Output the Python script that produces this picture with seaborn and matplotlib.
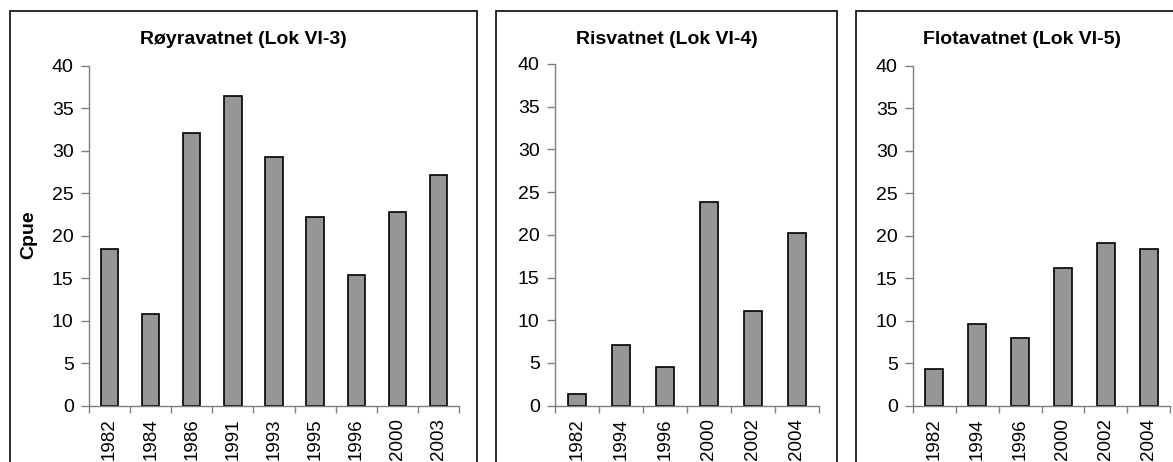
import numpy as np
import matplotlib
matplotlib.use("Agg")
import matplotlib.pyplot as plt
from matplotlib.patches import Rectangle
import seaborn as sns

# Catch per unit effort by survey year for three lakes
royr_years = ["1982", "1984", "1986", "1991", "1993", "1995", "1996", "2000", "2003"]
royr_cpue = [18.4, 10.8, 32.1, 36.4, 29.3, 22.2, 15.4, 22.8, 27.2]

risv_years = ["1982", "1994", "1996", "2000", "2002", "2004"]
risv_cpue = [1.4, 7.1, 4.5, 23.8, 11.1, 20.2]

flot_years = ["1982", "1994", "1996", "2000", "2002", "2004"]
flot_cpue = [4.3, 9.6, 8.0, 16.2, 19.1, 18.5]

titles = ["Røyravatnet (Lok VI-3)", "Risvatnet (Lok VI-4)", "Flotavatnet (Lok VI-5)"]
y_ticks = [0, 5, 10, 15, 20, 25, 30, 35, 40]

sns.set_theme(style="white")
plt.rcParams["font.family"] = ["Liberation Sans", "DejaVu Sans"]
plt.rcParams["text.color"] = "black"
plt.rcParams["xtick.labelcolor"] = "black"
plt.rcParams["ytick.labelcolor"] = "black"

W, H = 1173, 462
fig = plt.figure(figsize=(W / 100, H / 100), dpi=100)
fig.patch.set_facecolor("white")


def fx(px):
    return px / W


def fy(py):
    return 1 - py / H


# panel frames (left, right, top) in pixels
frames = [(10, 477, 11), (496, 837, 11), (856, 1187, 11)]
for l, r, t in frames:
    fig.patches.append(Rectangle((fx(l), -0.2), fx(r) - fx(l), fy(t) + 0.2,
                                 transform=fig.transFigure, fill=False,
                                 edgecolor="#1a1a1a", linewidth=1.3, zorder=0))

# axes boxes: (left, right, top-of-40, zero line) in pixels
boxes = [(89, 459, 65.7, 405.7), (555, 819, 64.0, 405.7), (913, 1170, 66.0, 405.7)]
data = [(royr_years, royr_cpue), (risv_years, risv_cpue), (flot_years, flot_cpue)]

axis_gray = "#7f7f7f"
for i, ((l, r, t, b), (yrs, vals), (fl, fr, ft)) in enumerate(zip(boxes, data, frames)):
    ax = fig.add_axes([fx(l), fy(b), fx(r) - fx(l), fy(t) - fy(b)])
    ax.set_facecolor("none")
    sns.barplot(x=yrs, y=vals, ax=ax, color="#969696", saturation=1,
                edgecolor="black", linewidth=1.2, width=0.42)
    n = len(yrs)
    ax.set_xlim(-0.5, n - 0.5)
    ax.set_ylim(0, 40)
    ax.set_yticks(y_ticks)
    ax.set_yticklabels([str(v) for v in y_ticks], fontsize=14)
    ax.set_xticks(np.arange(n))
    ax.set_xticklabels(yrs, rotation=90, fontsize=13.5)
    ax.set_xticks(np.arange(n + 1) - 0.5, minor=True)
    ax.tick_params(axis="x", which="major", length=0, pad=9)
    ax.tick_params(axis="x", which="minor", length=5, width=1, color=axis_gray,
                   direction="out", bottom=True)
    ax.tick_params(axis="y", which="major", length=6, width=1, color=axis_gray,
                   direction="out", left=True, pad=5)
    for side in ("top", "right"):
        ax.spines[side].set_visible(False)
    for side in ("left", "bottom"):
        ax.spines[side].set_color(axis_gray)
        ax.spines[side].set_linewidth(1)
    ax.set_xlabel("")
    ax.set_ylabel("")
    fig.text(fx((fl + fr) / 2), fy(39.5), titles[i], ha="center", va="center",
             fontsize=14, fontweight="bold")

fig.text(fx(29), fy(235), "Cpue", rotation=90, ha="center", va="center",
         fontsize=14, fontweight="bold")

fig.savefig("out.png", dpi=100)
